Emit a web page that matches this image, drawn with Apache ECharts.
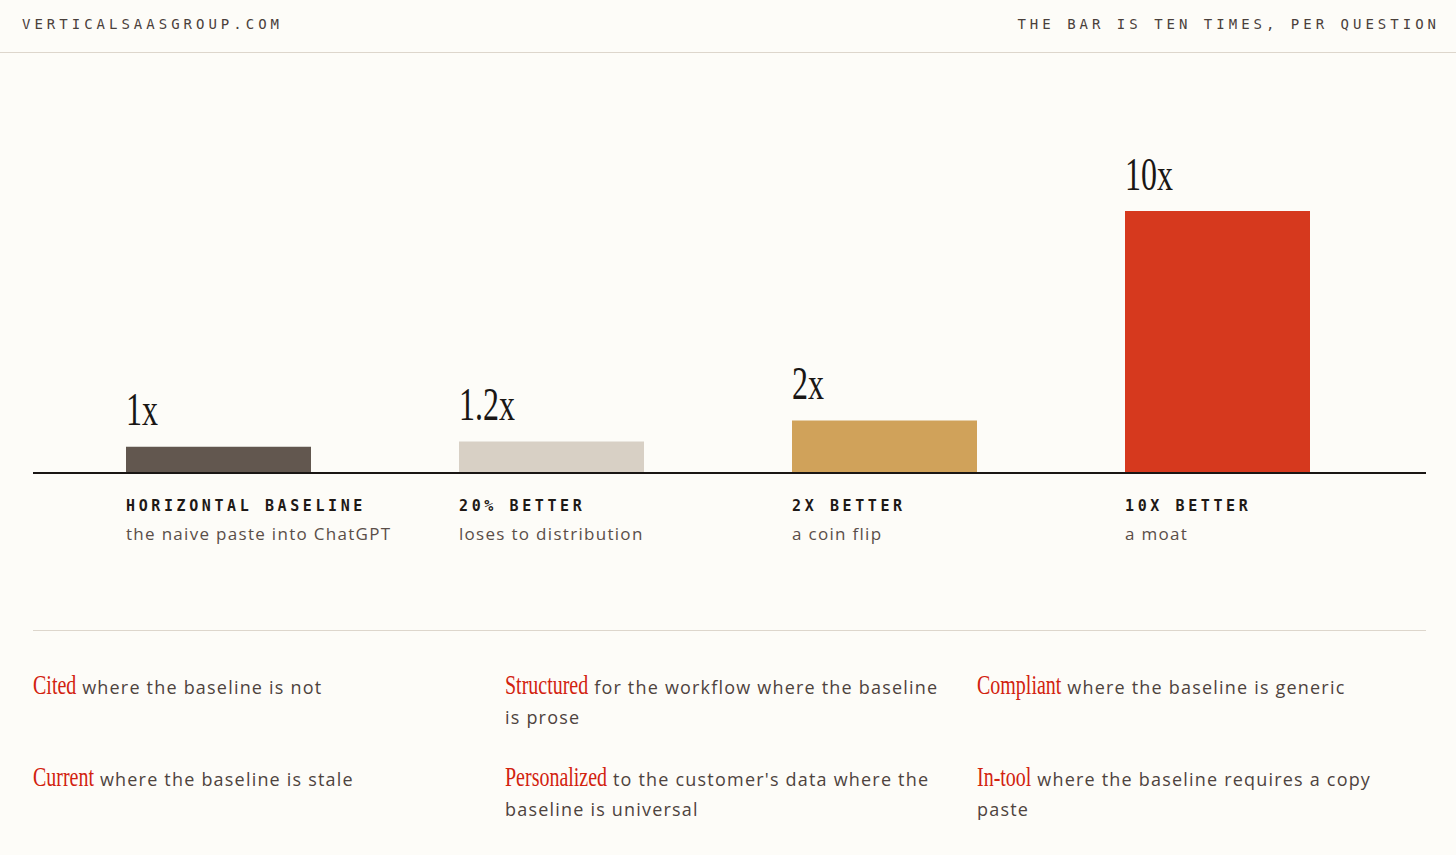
<!DOCTYPE html>
<html>
    <head>
        <meta charset="utf-8">
        <title>The bar is ten times</title>
        <script src="https://cdn.jsdelivr.net/npm/echarts@6/dist/echarts.min.js"></script>
        <style>
            html, body { margin: 0; padding: 0; background: #fdfcf8; overflow: hidden; }
            #page { position: relative; width: 1456px; height: 855px; }
            #main { position: absolute; left: 0; top: 0; width: 1456px; height: 855px; }
            /* letter-spaced labels inside the chart (svg renderer) */
            #main text[style*="Mono"] { letter-spacing: 3.6px; }
            #main text[style*="Open Sans"] { letter-spacing: 1.3px; }
            .head {
                position: absolute; top: 17px;
                font: 14px/14px 'DejaVu Sans Mono', monospace;
                letter-spacing: 4px; color: #4a403b;
            }
            .rule { position: absolute; height: 1px; background: #ddd6cc; }
            #notes {
                position: absolute; left: 33px; top: 669px;
                display: grid; grid-template-columns: 440px 440px 440px;
                column-gap: 32px; row-gap: 28px;
                font: 18px/32px 'Open Sans', sans-serif; letter-spacing: 1.2px; color: #4e433e;
            }
            #notes .line { width: 440px; height: 32px; }
            #notes .term {
                display: inline-block;
                font: 27px/32px 'Liberation Serif', serif; letter-spacing: 0; color: #d2220f;
                transform: scaleX(0.74); transform-origin: 0 50%;
            }
        </style>
    </head>
    <body>
        <div id="page">
            <div class="head" style="left:22px">VERTICALSAASGROUP.COM</div>
            <div class="head" style="right:16px">THE BAR IS TEN TIMES, PER QUESTION</div>
            <div class="rule" style="left:0;top:52px;width:1456px"></div>
            <div id="main"></div>
            <div class="rule" style="left:33px;top:630px;width:1393px"></div>
            <div id="notes"></div>
        </div>
        <script type="text/javascript">
            // chart data
            var categories = ['HORIZONTAL BASELINE', '20% BETTER', '2X BETTER', '10X BETTER'];
            var notes = ['the naive paste into ChatGPT', 'loses to distribution', 'a coin flip', 'a moat'];
            var values = [1, 1.2, 2, 10];
            var valueLabels = ['1x', '1.2x', '2x', '10x'];
            var barColors = ['#62574f', '#d8d0c5', '#d0a25a', '#d6391e'];

            // bottom list, row by row
            var terms = ['Cited', 'Structured', 'Compliant', 'Current', 'Personalized', 'In-tool'];
            var rests = [
                'where the baseline is not',
                'for the workflow where the baseline is prose',
                'where the baseline is generic',
                'where the baseline is stale',
                "to the customer's data where the baseline is universal",
                'where the baseline requires a copy paste'
            ];

            var SX = 0.74;
            var box = document.getElementById('notes');
            for (var i = 0; i < terms.length; i++) {
                var cell = document.createElement('div');
                box.appendChild(cell);
                var line = document.createElement('div');
                line.className = 'line';
                line.style.height = 'auto';
                cell.appendChild(line);
                var t = document.createElement('span');
                t.className = 'term';
                t.textContent = terms[i];
                line.appendChild(t);
                // the serif is condensed: take back the space the scale leaves
                var w = t.getBoundingClientRect().width / SX;
                t.style.marginRight = (-(1 - SX) * w) + 'px';
                var txt = document.createTextNode('');
                line.appendChild(txt);
                // fill the first line word by word, the rest goes on a second line
                var words = rests[i].split(' ');
                var k = 0;
                for (; k < words.length; k++) {
                    var before = txt.data;
                    txt.data = before + ' ' + words[k];
                    if (line.offsetHeight > 40) { txt.data = before; break; }
                }
                line.style.height = '';
                if (k < words.length) {
                    var line2 = document.createElement('div');
                    line2.className = 'line';
                    line2.textContent = words.slice(k).join(' ');
                    cell.appendChild(line2);
                }
            }

            var myChart = echarts.init(document.getElementById('main'), null, { renderer: 'svg' });

            var option = {
                animation: false,
                grid: { left: 52, right: 72, top: 80, bottom: 382 },
                xAxis: {
                    type: 'category',
                    data: categories,
                    axisLine: { show: false },
                    axisTick: { show: false },
                    axisLabel: {
                        interval: 0,
                        align: 'left',
                        margin: 21,
                        padding: [0, 0, 0, -92.5],
                        formatter: function (v, i) {
                            return '{t|' + v + '}\n{s|' + notes[i] + '}';
                        },
                        rich: {
                            t: { fontFamily: 'DejaVu Sans Mono', fontWeight: 'bold', fontSize: 15, lineHeight: 24, color: '#1e1916' },
                            s: { fontFamily: 'Open Sans', fontSize: 17, lineHeight: 30, color: '#5a4e48' }
                        }
                    }
                },
                yAxis: {
                    type: 'value',
                    min: 0,
                    max: 15,
                    show: false
                },
                series: [{
                    type: 'bar',
                    barWidth: 185,
                    data: values.map(function (v, i) {
                        return { value: v, itemStyle: { color: barColors[i] } };
                    }),
                    label: {
                        show: true,
                        position: [0, -14],
                        align: 'left',
                        verticalAlign: 'bottom',
                        fontFamily: 'Liberation Serif',
                        fontSize: 47,
                        lineHeight: 47,
                        color: '#1a1614',
                        formatter: function (p) { return valueLabels[p.dataIndex]; }
                    }
                }]
            };

            myChart.setOption(option);

            // baseline rule, placed at the value-axis zero
            var y0 = Math.round(myChart.convertToPixel({ yAxisIndex: 0 }, 0));
            myChart.setOption({
                graphic: [{
                    type: 'line',
                    shape: { x1: 33, y1: y0, x2: 1426, y2: y0 },
                    style: { stroke: '#1a1614', lineWidth: 2 },
                    z: 10
                }]
            });

            // condense the big serif value labels
            document.querySelectorAll('#main text').forEach(function (el) {
                if ((el.getAttribute('style') || '').indexOf('Liberation Serif') < 0) return;
                el.setAttribute('lengthAdjust', 'spacingAndGlyphs');
                el.setAttribute('textLength', (el.getComputedTextLength() * 0.68).toFixed(1));
            });
        </script>
    </body>
</html>
